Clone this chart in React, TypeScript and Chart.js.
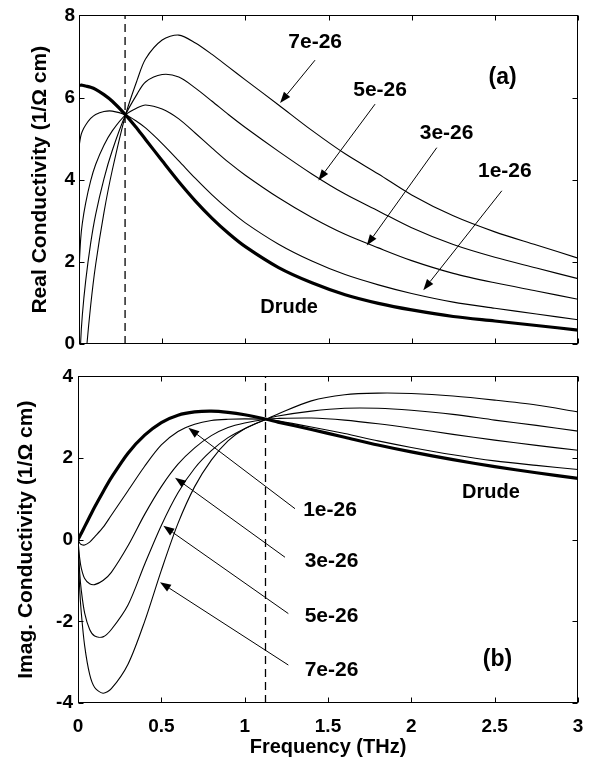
import React, { useEffect, useRef } from "react";
import { Chart, registerables } from "chart.js";

Chart.register(...registerables);

const FONT_FAMILY = "'Liberation Sans', Arial, Helvetica, sans-serif";

// ---------- Panel (a): real conductivity ----------
const freqReal = [0, 0.01, 0.02, 0.04, 0.07, 0.1, 0.15, 0.2, 0.28, 0.35, 0.4, 0.5, 0.6, 0.7, 0.8, 0.9, 1.0, 1.2, 1.4, 1.6, 1.8, 2.0, 2.25, 2.5, 2.75, 3.0];
const realDrude = [6.3, 6.3, 6.3, 6.28, 6.25, 6.2, 6.07, 5.91, 5.58, 5.24, 4.98, 4.46, 3.95, 3.48, 3.06, 2.69, 2.37, 1.86, 1.49, 1.2, 0.99, 0.83, 0.67, 0.56, 0.45, 0.34];
const real1e = [4.8, 5.05, 5.18, 5.33, 5.49, 5.59, 5.66, 5.67, 5.58, 5.41, 5.26, 4.88, 4.46, 4.03, 3.63, 3.27, 2.95, 2.43, 2.02, 1.69, 1.44, 1.23, 1.02, 0.87, 0.73, 0.59];
const real3e = [1.8, 2.55, 2.94, 3.43, 3.97, 4.37, 4.84, 5.19, 5.58, 5.75, 5.82, 5.72, 5.48, 5.13, 4.77, 4.42, 4.11, 3.56, 3.08, 2.67, 2.34, 2.03, 1.72, 1.49, 1.29, 1.09];
const real5e = [-1.2, 0.05, 0.7, 1.53, 2.45, 3.15, 4.02, 4.71, 5.58, 6.09, 6.38, 6.56, 6.5, 6.23, 5.91, 5.58, 5.27, 4.69, 4.14, 3.65, 3.24, 2.83, 2.42, 2.11, 1.85, 1.59];
const real7e = [-4.2, -2.45, -1.54, -0.37, 0.93, 1.93, 3.2, 4.23, 5.58, 6.43, 6.94, 7.4, 7.52, 7.33, 7.05, 6.74, 6.43, 5.82, 5.2, 4.63, 4.14, 3.63, 3.12, 2.73, 2.41, 2.09];
const dashFreqReal = 0.277;

// ---------- Panel (b): imaginary conductivity ----------
const freqImag = [0, 0.01, 0.02, 0.04, 0.07, 0.1, 0.15, 0.2, 0.3, 0.4, 0.5, 0.6, 0.7, 0.8, 0.9, 1.0, 1.13, 1.2, 1.4, 1.6, 1.8, 2.0, 2.25, 2.5, 2.75, 3.0];
const imagDrude = [0, 0.08, 0.16, 0.32, 0.56, 0.8, 1.17, 1.52, 2.12, 2.56, 2.87, 3.05, 3.13, 3.15, 3.12, 3.06, 2.95, 2.88, 2.7, 2.51, 2.32, 2.15, 1.96, 1.79, 1.64, 1.5];
const imag1e = [0, -0.08, -0.12, -0.13, -0.06, 0.07, 0.3, 0.6, 1.2, 1.8, 2.32, 2.65, 2.83, 2.92, 2.95, 2.96, 2.95, 2.91, 2.76, 2.6, 2.42, 2.26, 2.08, 1.93, 1.82, 1.72];
const imag3e = [0, -0.45, -0.7, -0.95, -1.08, -1.1, -1.0, -0.8, -0.15, 0.62, 1.3, 1.85, 2.25, 2.55, 2.75, 2.86, 2.95, 2.97, 2.98, 2.93, 2.84, 2.73, 2.58, 2.44, 2.31, 2.19];
const imag5e = [0, -0.8, -1.25, -1.8, -2.2, -2.36, -2.38, -2.2, -1.6, -0.6, 0.35, 1.15, 1.75, 2.18, 2.5, 2.72, 2.95, 3.03, 3.15, 3.22, 3.22, 3.17, 3.07, 2.93, 2.8, 2.66];
const imag7e = [0, -1.2, -1.8, -2.6, -3.3, -3.62, -3.76, -3.65, -3.05, -2.0, -0.75, 0.4, 1.3, 1.95, 2.42, 2.72, 2.95, 3.08, 3.4, 3.55, 3.59, 3.58, 3.52, 3.42, 3.3, 3.13];
const dashFreqImag = 1.125;

// ---------- Annotations (data coordinates) ----------
type Note = { text: string; x: number; y: number; size: number; from?: [number, number]; to?: [number, number] };

const notesReal: Note[] = [
  { text: "7e-26", x: 1.42, y: 7.35, size: 21, from: [1.419, 6.91], to: [1.209, 5.87] },
  { text: "5e-26", x: 1.81, y: 6.19, size: 21, from: [1.78, 5.84], to: [1.439, 3.98] },
  { text: "3e-26", x: 2.21, y: 5.13, size: 21, from: [2.151, 4.78], to: [1.73, 2.4] },
  { text: "1e-26", x: 2.56, y: 4.21, size: 21, from: [2.542, 3.73], to: [2.07, 1.31] },
  { text: "(a)", x: 2.547, y: 6.48, size: 23 },
  { text: "Drude", x: 1.263, y: 0.885, size: 20 },
];

const notesImag: Note[] = [
  { text: "1e-26", x: 1.512, y: 0.72, size: 21, from: [1.302, 0.76], to: [0.662, 2.74] },
  { text: "3e-26", x: 1.521, y: -0.52, size: 21, from: [1.242, -0.43], to: [0.582, 1.52] },
  { text: "5e-26", x: 1.521, y: -1.87, size: 21, from: [1.262, -1.81], to: [0.512, 0.34] },
  { text: "7e-26", x: 1.521, y: -3.2, size: 21, from: [1.262, -3.07], to: [0.492, -1.04] },
  { text: "Drude", x: 2.478, y: 1.16, size: 20 },
  { text: "(b)", x: 2.517, y: -2.95, size: 23 },
];

function pts(xs: number[], ys: number[]) {
  return ys.map((y, i) => ({ x: xs[i], y }));
}

function curve(xs: number[], ys: number[], thick: boolean) {
  return {
    data: pts(xs, ys),
    borderColor: "#000",
    borderWidth: thick ? 3.2 : 1.1,
    pointRadius: 0,
    fill: false,
    tension: 0.3,
  };
}

function dashLine(x: number, y0: number, y1: number) {
  return {
    data: [{ x, y: y0 }, { x, y: y1 }],
    borderColor: "#000",
    borderWidth: 1.3,
    borderDash: [8, 5],
    pointRadius: 0,
    fill: false,
  };
}

const framePlugin = {
  id: "frameTicks",
  afterDatasetsDraw(chart: any) {
    const { ctx, chartArea: a, scales } = chart;
    const L = 5;
    ctx.save();
    ctx.strokeStyle = "#000";
    ctx.lineWidth = 1;
    const left = Math.round(a.left) + 0.5;
    const right = Math.round(a.right) - 0.5;
    const top = Math.round(a.top) + 0.5;
    const bottom = Math.round(a.bottom) - 0.5;
    ctx.strokeRect(left, top, right - left, bottom - top);
    ctx.beginPath();
    for (const t of scales.x.ticks) {
      const px = Math.round(scales.x.getPixelForValue(t.value)) + 0.5;
      ctx.moveTo(px, bottom);
      ctx.lineTo(px, bottom - L);
      ctx.moveTo(px, top);
      ctx.lineTo(px, top + L);
    }
    for (const t of scales.y.ticks) {
      const py = Math.round(scales.y.getPixelForValue(t.value)) + 0.5;
      ctx.moveTo(left, py);
      ctx.lineTo(left + L, py);
      ctx.moveTo(right, py);
      ctx.lineTo(right - L, py);
    }
    ctx.stroke();
    ctx.restore();
  },
};

function notesPlugin(notes: Note[]) {
  return {
    id: "notes",
    afterDraw(chart: any) {
      const { ctx, scales } = chart;
      const X = (v: number) => scales.x.getPixelForValue(v);
      const Y = (v: number) => scales.y.getPixelForValue(v);
      ctx.save();
      ctx.fillStyle = "#000";
      ctx.strokeStyle = "#000";
      ctx.lineWidth = 1;
      for (const n of notes) {
        ctx.font = `bold ${n.size}px ${FONT_FAMILY}`;
        ctx.textAlign = "center";
        ctx.textBaseline = "middle";
        ctx.fillText(n.text, X(n.x), Y(n.y));
        if (n.from && n.to) {
          const x1 = X(n.from[0]), y1 = Y(n.from[1]);
          const x2 = X(n.to[0]), y2 = Y(n.to[1]);
          const ang = Math.atan2(y2 - y1, x2 - x1);
          const len = 11, w = 4;
          const bx = x2 - len * Math.cos(ang);
          const by = y2 - len * Math.sin(ang);
          ctx.beginPath();
          ctx.moveTo(x1, y1);
          ctx.lineTo(bx, by);
          ctx.stroke();
          ctx.beginPath();
          ctx.moveTo(x2, y2);
          ctx.lineTo(bx + w * Math.sin(ang), by - w * Math.cos(ang));
          ctx.lineTo(bx - w * Math.sin(ang), by + w * Math.cos(ang));
          ctx.closePath();
          ctx.fill();
        }
      }
      ctx.restore();
    },
  };
}

const tickFont = { family: FONT_FAMILY, size: 19, weight: "bold" as const };
const titleFont = { family: FONT_FAMILY, size: 21, weight: "bold" as const };
const xTitleFont = { family: FONT_FAMILY, size: 20, weight: "bold" as const };
const plainNumber = (v: any) => String(Number(v));

export default function App() {
  const topRef = useRef<HTMLCanvasElement | null>(null);
  const botRef = useRef<HTMLCanvasElement | null>(null);

  useEffect(() => {
    const top = new Chart(topRef.current as HTMLCanvasElement, {
      type: "line",
      data: {
        datasets: [
          curve(freqReal, real7e, false),
          curve(freqReal, real5e, false),
          curve(freqReal, real3e, false),
          curve(freqReal, real1e, false),
          curve(freqReal, realDrude, true),
          dashLine(dashFreqReal, 0, 8),
        ] as any,
      },
      options: {
        responsive: false,
        animation: false,
        layout: { padding: { top: 14, right: 11, bottom: 16, left: 0 } },
        plugins: { legend: { display: false }, tooltip: { enabled: false } },
        scales: {
          x: {
            type: "linear",
            min: 0,
            max: 3,
            ticks: { display: false, stepSize: 0.5 },
            grid: { display: false, drawTicks: false },
            border: { display: false },
            afterFit: (s: any) => { s.height = 0; s.paddingLeft = 0; s.paddingRight = 0; },
          },
          y: {
            type: "linear",
            min: 0,
            max: 8,
            ticks: { stepSize: 2, padding: 4, font: tickFont, color: "#000", callback: plainNumber },
            grid: { display: false, drawTicks: false },
            border: { display: false },
            title: {
              display: true,
              text: "Real Conductivity (1/Ω cm)",
              font: titleFont,
              color: "#000",
              padding: { top: 28, bottom: 0 },
            },
            afterFit: (s: any) => { s.width = 79; },
          },
        },
      } as any,
      plugins: [framePlugin, notesPlugin(notesReal)],
    });

    const bot = new Chart(botRef.current as HTMLCanvasElement, {
      type: "line",
      data: {
        datasets: [
          curve(freqImag, imag7e, false),
          curve(freqImag, imag5e, false),
          curve(freqImag, imag3e, false),
          curve(freqImag, imag1e, false),
          curve(freqImag, imagDrude, true),
          dashLine(dashFreqImag, -4, 4),
        ] as any,
      },
      options: {
        responsive: false,
        animation: false,
        layout: { padding: { top: 15, right: 11, bottom: 0, left: 0 } },
        plugins: { legend: { display: false }, tooltip: { enabled: false } },
        scales: {
          x: {
            type: "linear",
            min: 0,
            max: 3,
            ticks: { stepSize: 0.5, padding: 12, font: tickFont, color: "#000", maxRotation: 0, callback: plainNumber },
            grid: { display: false, drawTicks: false },
            border: { display: false },
            title: {
              display: true,
              text: "Frequency (THz)",
              font: xTitleFont,
              color: "#000",
              padding: { top: 0, bottom: 2 },
            },
            afterFit: (s: any) => { s.height = 58; s.paddingLeft = 0; s.paddingRight = 0; },
          },
          y: {
            type: "linear",
            min: -4,
            max: 4,
            ticks: { stepSize: 2, padding: 5, font: tickFont, color: "#000", callback: plainNumber },
            grid: { display: false, drawTicks: false },
            border: { display: false },
            title: {
              display: true,
              text: "Imag. Conductivity (1/Ω cm)",
              font: titleFont,
              color: "#000",
              padding: { top: 14, bottom: 0 },
            },
            afterFit: (s: any) => { s.width = 78; },
          },
        },
      } as any,
      plugins: [framePlugin, notesPlugin(notesImag)],
    });

    return () => {
      top.destroy();
      bot.destroy();
    };
  }, []);

  return (
    <div style={{ position: "absolute", left: 0, top: 0, width: 589, height: 761, background: "#fff" }}>
      <canvas ref={topRef} width={589} height={360} style={{ position: "absolute", left: 0, top: 0, width: 589, height: 360 }} />
      <canvas ref={botRef} width={589} height={401} style={{ position: "absolute", left: 0, top: 360, width: 589, height: 401 }} />
    </div>
  );
}
